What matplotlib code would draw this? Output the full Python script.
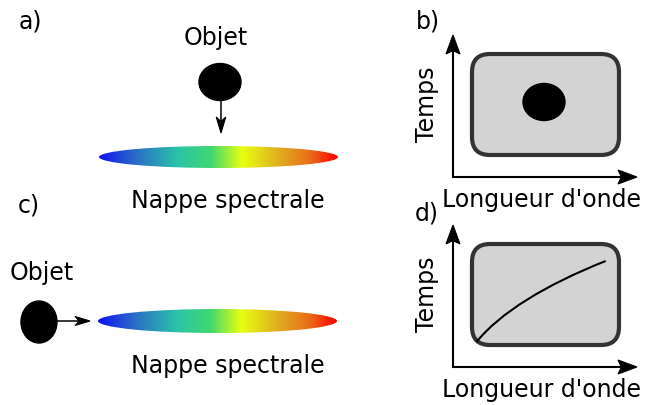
import numpy as np
import matplotlib.pyplot as plt
from matplotlib.patches import Ellipse, FancyBboxPatch, Polygon, PathPatch
from matplotlib.path import Path
from matplotlib.colors import LinearSegmentedColormap

# panel labels and texts
panel_labels = ["a)", "b)", "c)", "d)"]
label_pos = [(30, 22), (428, 22), (29, 205), (427, 213)]
x_label = "Longueur d'onde"
y_label = "Temps"
object_label = "Objet"
sheet_label = "Nappe spectrale"

# spectral colours, left (blue) to right (red)
spec_stops = [0.0, 0.15, 0.33, 0.47, 0.60, 0.75, 0.88, 1.0]
spec_colors = ["#1010f0", "#2a6cc8", "#2ac4a8", "#40d870", "#e8ff10",
               "#e0b020", "#e87018", "#ff0000"]

# curve of panel d): bezier control points (pixels read off the picture)
curve_x = [476.7, 500, 545, 605.7]
curve_y = [341.7, 313, 285, 261]

fig = plt.figure(figsize=(6.46, 4.05), dpi=100)
ax = fig.add_axes([0, 0, 1, 1])
ax.set_xlim(0, 646)
ax.set_ylim(405, 0)
ax.axis("off")

fs = 17
cmap = LinearSegmentedColormap.from_list("spec", list(zip(spec_stops, spec_colors)))
grad = np.linspace(0, 1, 256).reshape(1, -1)


def spectrum(cx, cy, w, h):
    x0, x1 = cx - w / 2, cx + w / 2
    y0, y1 = cy - h / 2, cy + h / 2
    im = ax.imshow(grad, cmap=cmap, extent=[x0, x1, y1, y0], aspect="auto", zorder=2)
    clip = Ellipse((cx, cy), w, h, facecolor="none", edgecolor="none")
    ax.add_patch(clip)
    im.set_clip_path(clip)


def arrow(p0, p1, lw=1.2, L=14, W=8, notch=0.75):
    p0, p1 = np.array(p0, float), np.array(p1, float)
    d = (p1 - p0) / np.linalg.norm(p1 - p0)
    n = np.array([-d[1], d[0]])
    back = p1 - d * L
    nb = p1 - d * L * notch
    ax.plot([p0[0], nb[0]], [p0[1], nb[1]], color="black", lw=lw, zorder=4,
            solid_capstyle="butt")
    head = [p1, back + n * W / 2, nb, back - n * W / 2]
    ax.add_patch(Polygon(head, closed=True, facecolor="black", edgecolor="black",
                         lw=0.8, zorder=4))


for lab, (x, y) in zip(panel_labels, label_pos):
    ax.text(x, y, lab, fontsize=fs, ha="center", va="center")

# panel a)
ax.text(216, 38, object_label, fontsize=fs, ha="center", va="center")
ax.add_patch(Ellipse((220, 82), 42, 37, color="black", zorder=3))
arrow((221, 100), (221, 133), lw=1.1, L=16, W=9.5, notch=0.72)
spectrum(218.5, 157, 239, 22)
ax.text(228, 201, sheet_label, fontsize=fs, ha="center", va="center")

# panel c)
ax.text(42, 273, object_label, fontsize=fs, ha="center", va="center")
ax.add_patch(Ellipse((39, 322), 36, 42, color="black", zorder=3))
arrow((57, 321), (90, 321), lw=1.1, L=15, W=9, notch=0.72)
spectrum(217.5, 321, 239, 24)
ax.text(228, 366, sheet_label, fontsize=fs, ha="center", va="center")


# panels b) and d)
def diagram(top):
    y_axis = top + 177
    arrow((453, y_axis + 0.7), (453, top + 35), lw=1.5, L=19, W=14, notch=0.82)
    arrow((452.3, y_axis), (637, y_axis), lw=1.5, L=19, W=14, notch=0.82)
    ax.text(427, top + 104, y_label, fontsize=fs, rotation=90, ha="center", va="center")
    ax.text(541, top + 200, x_label, fontsize=fs, ha="center", va="center")
    box = FancyBboxPatch((490, top + 72), 111, 65, boxstyle="round,pad=18",
                         facecolor="#d3d3d3", edgecolor="#333333", lw=3, zorder=2)
    ax.add_patch(box)


diagram(0)
ax.add_patch(Ellipse((544, 102), 42, 37, color="black", zorder=3))

diagram(190)
verts = list(zip(curve_x, curve_y))
curve = Path(verts, [Path.MOVETO, Path.CURVE4, Path.CURVE4, Path.CURVE4])
ax.add_patch(PathPatch(curve, facecolor="none", edgecolor="black", lw=1.5, zorder=3))

fig.savefig("out.png", dpi=100)
